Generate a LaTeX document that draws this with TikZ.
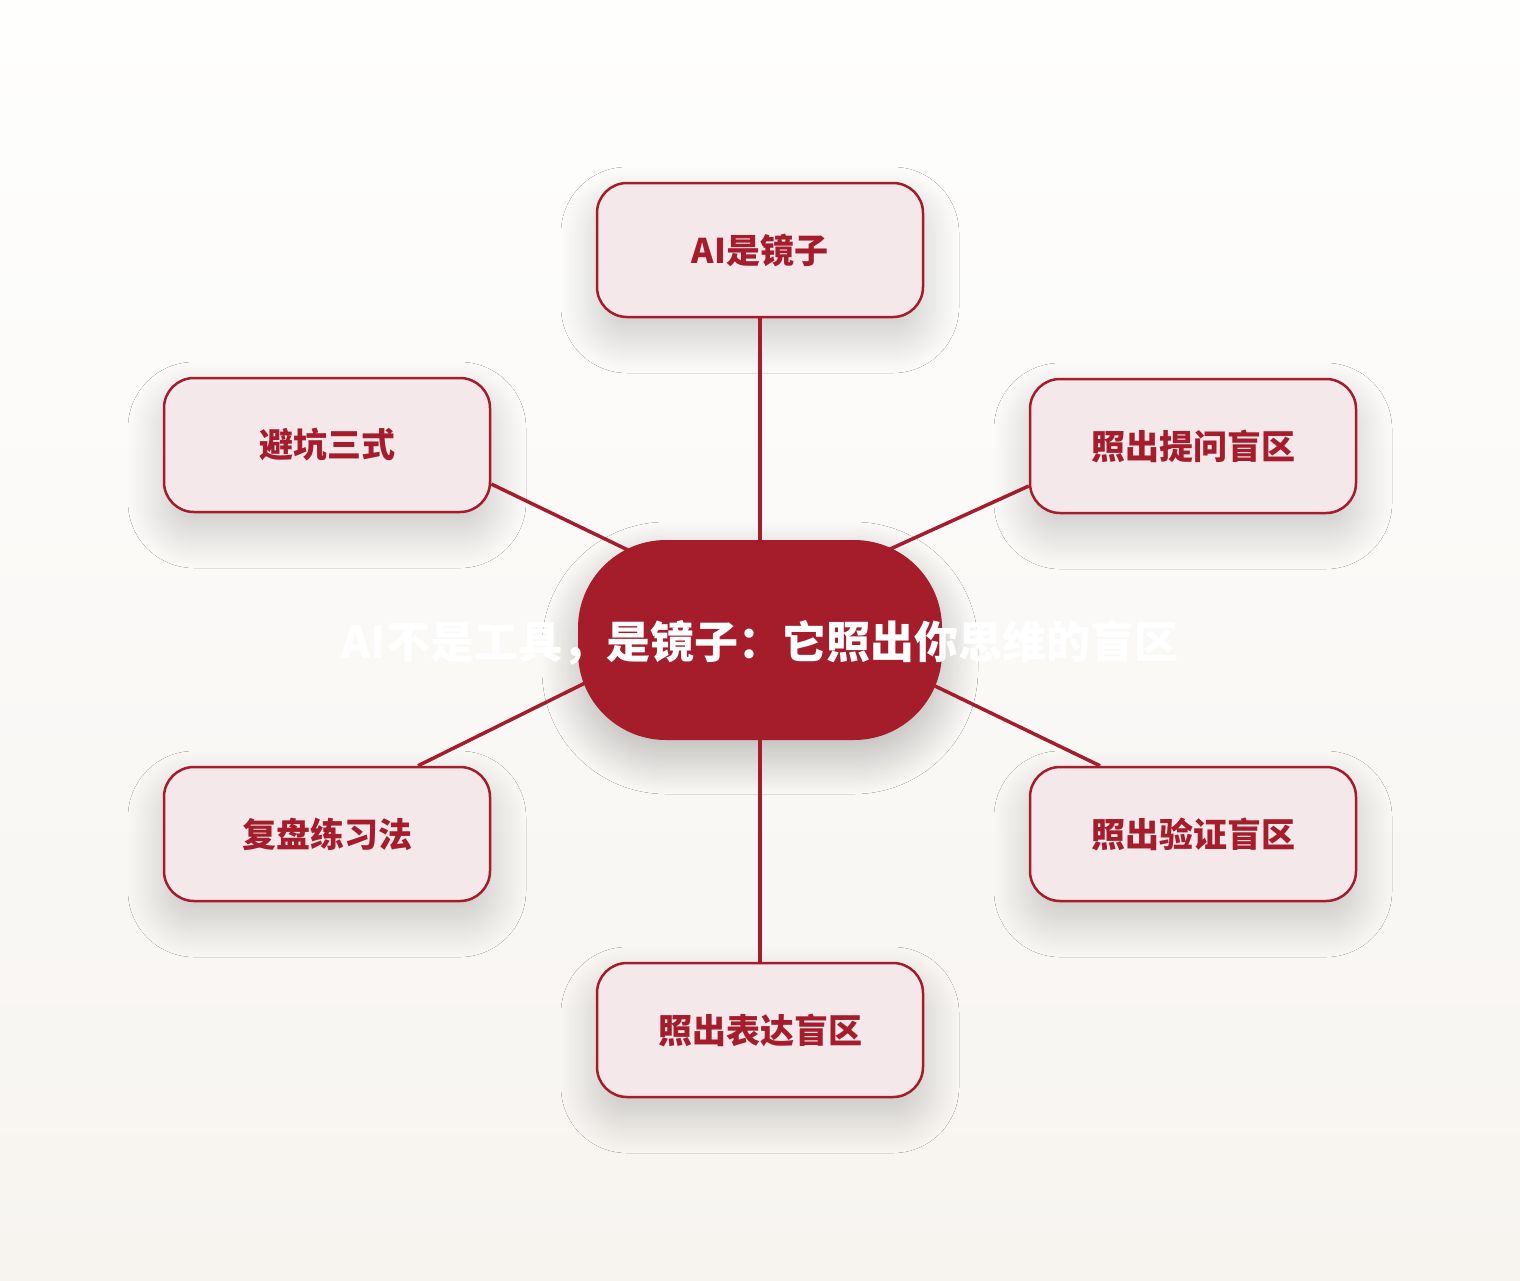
\documentclass[tikz,border=0pt]{standalone}
\usepackage{fontspec}
\newfontfamily\cjk{Noto Sans CJK SC}
\usepackage{tikz}
\usetikzlibrary{shadows.blur}

\definecolor{mirrorred}{HTML}{A51C2B}
\definecolor{leafpink}{HTML}{F5E8EB}
\definecolor{bgtop}{HTML}{FEFEFD}
\definecolor{bgbottom}{HTML}{F7F4F0}

\tikzset{
    hub/.style={fill=mirrorred, rounded corners=44pt, minimum width=182pt, minimum height=100pt,
        inner sep=0pt, blur shadow={shadow xshift=0pt, shadow yshift=-9pt, shadow blur radius=18pt,
        shadow blur steps=24, shadow opacity=26}},
    hubtext/.style={text=white, font=\cjk\bfseries\fontsize{22pt}{26pt}\selectfont, inner sep=0pt},
    leaf/.style={draw=mirrorred, line width=1.25pt, fill=leafpink, rounded corners=15pt,
        minimum width=163pt, minimum height=67pt, inner sep=0pt, text=mirrorred,
        font=\cjk\bfseries\fontsize{17pt}{20pt}\selectfont,
        blur shadow={shadow xshift=0pt, shadow yshift=-10pt, shadow blur radius=18pt,
        shadow blur steps=24, shadow opacity=20}},
    link/.style={draw=mirrorred, line width=1.75pt}
}

\begin{document}
\begin{tikzpicture}[x=0.5pt, y=-0.5pt]
        \fill[top color=bgtop, bottom color=bgbottom] (0,0) rectangle (1520,1280);

        \node[hub, label={[hubtext, yshift=-1.5pt]center:AI不是工具，是镜子：它照出你思维的盲区}] (hub) at (760,640) {};

        \node[leaf] (mirror) at (760,250) {\raisebox{-1pt}{AI是镜子}};
        \node[leaf] (avoid) at (327,445) {\raisebox{-1pt}{避坑三式}};
        \node[leaf] (ask) at (1193,446) {\raisebox{-1pt}{照出提问盲区}};
        \node[leaf] (review) at (327,834) {\raisebox{-1pt}{复盘练习法}};
        \node[leaf] (verify) at (1193,834) {\raisebox{-1pt}{照出验证盲区}};
        \node[leaf] (express) at (760,1030) {\raisebox{-1pt}{照出表达盲区}};

        % hub -> top / bottom
        \draw[link] (mirror.south) -- (hub.north);
        \draw[link] (hub.south) -- (express.north);

        % hub -> left
        \draw[link] ([shift={(0,39)}]avoid.east) -- ([shift={(-130,-89)}]hub.center);
        \draw[link] ([shift={(91,0)}]review.north) -- ([shift={(-175,43)}]hub.center);

        % hub -> right
        \draw[link] ([shift={(0,40)}]ask.west) -- ([shift={(128,-90)}]hub.center);
        \draw[link] ([shift={(-93,0)}]verify.north) -- ([shift={(175,46)}]hub.center);
    \end{tikzpicture}
\end{document}
